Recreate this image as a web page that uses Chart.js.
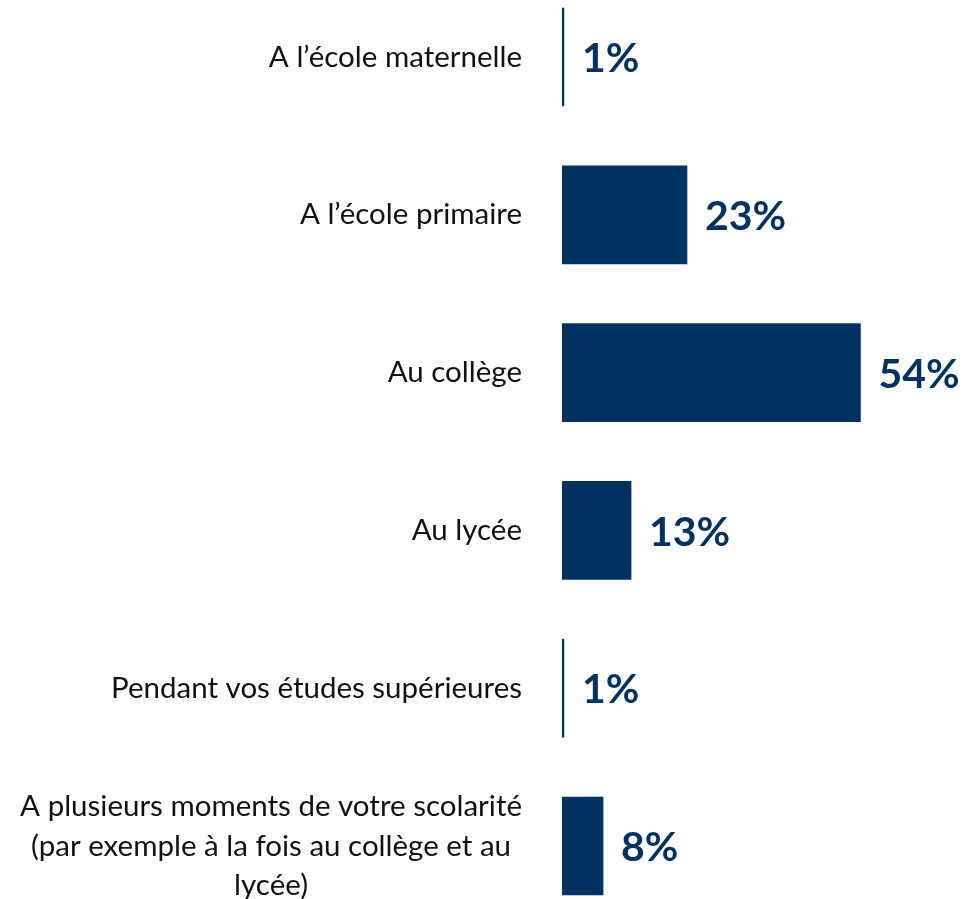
<!DOCTYPE html>
<html>
<head>
<meta charset="utf-8">
<script src="https://cdn.jsdelivr.net/npm/chart.js@4/dist/chart.umd.min.js"></script>
<style>
  html, body { margin: 0; padding: 0; background: #fff; }
  #wrap { width: 965px; height: 899px; position: relative; }
</style>
</head>
<body>
<div id="wrap"><canvas id="myChart"></canvas></div>
<script>
// categories and values
const categories = [
    ['A l\u2019école maternelle'],
    ['A l\u2019école primaire'],
    ['Au collège'],
    ['Au lycée'],
    ['Pendant vos études supérieures'],
    ['A plusieurs moments de votre scolarité', '(par exemple à la fois au collège et au', 'lycée)']
];
const values = [1, 23, 54, 13, 1, 8];
const valueLabels = ['1%', '23%', '54%', '13%', '1%', '8%'];

const navy = '#01325F';
const labelFont = '29.5px Lato, "Open Sans", sans-serif';
const valueFont = 'bold 41px Lato, "Open Sans", sans-serif';

// draws category labels (right edge at 522, multi-line blocks centred) and value labels
const labelsPlugin = {
    id: 'labelsPlugin',
    afterDatasetsDraw(chart) {
        const ctx = chart.ctx;
        const yScale = chart.scales.y;
        const meta = chart.getDatasetMeta(0);
        ctx.save();

        ctx.font = labelFont;
        ctx.fillStyle = '#111';
        ctx.textBaseline = 'middle';
        ctx.textAlign = 'center';
        const rightEdge = chart.chartArea.left - 40;
        const lineH = 39.5;
        categories.forEach((lines, i) => {
            const y = yScale.getPixelForTick(i);
            const widest = Math.max(...lines.map(l => ctx.measureText(l).width));
            const cx = rightEdge - widest / 2;
            const top = y - (lines.length - 1) * lineH / 2;
            lines.forEach((l, j) => ctx.fillText(l, cx, top + j * lineH));
        });

        ctx.font = valueFont;
        ctx.fillStyle = navy;
        ctx.textAlign = 'left';
        meta.data.forEach((bar, i) => {
            ctx.fillText(valueLabels[i], bar.x + 18, bar.y + 2);
        });
        ctx.restore();
    }
};

const ctx = document.getElementById('myChart').getContext('2d');
const myChart = new Chart(ctx, {
    type: 'bar',
    data: {
        labels: categories.map(c => c.join(' ')),
        datasets: [{
            data: values,
            backgroundColor: navy,
            borderWidth: 0,
            barThickness: 98,
            clip: { left: 0, top: false, right: false, bottom: false }
        }]
    },
    options: {
        indexAxis: 'y',
        responsive: true,
        maintainAspectRatio: false,
        animation: false,
        layout: {
            padding: { left: 0, right: 71, top: 57, bottom: 53 }
        },
        plugins: {
            legend: { display: false },
            tooltip: { enabled: false }
        },
        scales: {
            x: {
                min: 0.66,
                max: 60,
                display: false,
                grid: { display: false }
            },
            y: {
                offset: false,
                grid: { display: false },
                border: { display: false },
                ticks: { display: false },
                afterFit: (scale) => { scale.width = 562; }
            }
        }
    },
    plugins: [labelsPlugin]
});
</script>
</body>
</html>
